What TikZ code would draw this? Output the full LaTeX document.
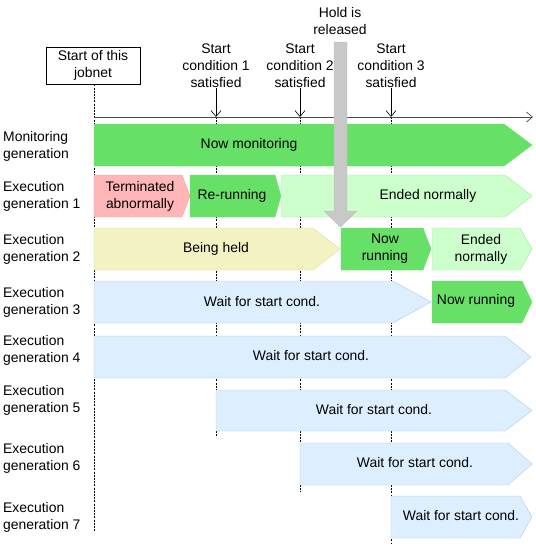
\documentclass[tikz,border=0pt]{standalone}
\usepackage{fontspec}
\setmainfont{Liberation Sans}
\usetikzlibrary{arrows.meta}

\definecolor{runGreen}{HTML}{66E066}
\definecolor{doneFill}{HTML}{CCFFCC}
\definecolor{doneLine}{HTML}{99EE99}
\definecolor{failFill}{HTML}{FFB6B6}
\definecolor{failLine}{HTML}{FF9C9C}
\definecolor{heldFill}{HTML}{F2F2C2}
\definecolor{heldLine}{HTML}{E0E090}
\definecolor{waitFill}{HTML}{DDEEFF}
\definecolor{waitLine}{HTML}{AACCEE}
\definecolor{holdGray}{HTML}{C8C8C8}

\tikzset{
  every node/.style={font=\fontsize{13.9}{17}\selectfont, align=center, inner sep=0pt},
  genlabel/.style={anchor=west, align=left},
  guide/.style={black, dash pattern=on 2pt off 1.2pt, line width=0.6pt},
  runbar/.style={fill=runGreen, draw=runGreen},
  donebar/.style={fill=doneFill, draw=doneLine},
  failbar/.style={fill=failFill, draw=failLine},
  heldbar/.style={fill=heldFill, draw=heldLine},
  waitbar/.style={fill=waitFill, draw=waitLine},
}
% style, left, end of body, tip, top, bottom
\newcommand{\phasebar}[6]{\draw[#1] (#2,#5) -- (#3,#5) -- (#4,{(#5+#6)/2}) -- (#3,#6) -- (#2,#6) -- cycle;}

\begin{document}
\begin{tikzpicture}[x=1pt, y=-1pt, >={Straight Barb[length=6pt,width=10pt]}]
    \useasboundingbox (0,0) rectangle (536,547);
    % time axis and events
    \node[draw, line width=0.7pt, minimum width=94pt, minimum height=37pt] (start) at (93,65.5) {Start of this\\jobnet};
    \coordinate (t0) at (94,117);
    \coordinate (tend) at (533,117);
    \coordinate (c1) at (216,117);
    \coordinate (c2) at (300,117);
    \coordinate (c3) at (391,117);
    \coordinate (e0) at (94,531);
    \coordinate (e1) at (216,437);
    \coordinate (e2) at (300,492);
    \coordinate (e3) at (391,543);
    \node (s1) at (216,66) {Start\\condition 1\\satisfied};
    \node (s2) at (300,66) {Start\\condition 2\\satisfied};
    \node (s3) at (391,66) {Start\\condition 3\\satisfied};
    \draw[guide] (start.south -| t0) -- (e0);
    \foreach \i in {1,2,3} {
        \draw[guide] (c\i) -- (e\i);
        \draw[->, line width=0.6pt] (s\i.south) -- (c\i);
    }
    \draw[black!70, line width=0.7pt, ->] (t0) -- (tend);

    % generations
    \phasebar{runbar}{94}{504}{532}{124}{166}
    \phasebar{failbar}{94}{182}{190}{175}{217}
    \phasebar{runbar}{190}{275}{281}{175}{217}
    \phasebar{donebar}{281}{505}{532}{175}{217}
    \phasebar{heldbar}{94}{313}{340}{228}{270}
    \phasebar{runbar}{341}{423}{431}{228}{270}
    \phasebar{donebar}{432}{520}{532}{228}{270}
    \phasebar{waitbar}{94}{393}{431}{281}{323}
    \phasebar{runbar}{432}{522}{532}{281}{323}
    \phasebar{waitbar}{94}{505}{531}{336}{378}
    \phasebar{waitbar}{216}{505}{532}{390}{431}
    \phasebar{waitbar}{300}{508}{532}{443}{485}
    \phasebar{waitbar}{391}{520}{532}{496}{538}

    \node (nmon) at (249,145) {Now monitoring};
    \node (nfail) at (140,196) {Terminated\\abnormally};
    \node (nrerun) at (232,196) {Re-running};
    \node (ndone1) at (428,196) {Ended normally};
    \node (nheld) at (216,249) {Being held};
    \node (nrun2) at (385,249) {Now\\running};
    \node (ndone2) at (481,249) {Ended\\normally};
    \node (nwait3) at (262,302) {Wait for start cond.};
    \node (nrun3) at (476,301) {Now running};
    \node (nwait4) at (311,356) {Wait for start cond.};
    \node (nwait5) at (374,410) {Wait for start cond.};
    \node (nwait6) at (415,463) {Wait for start cond.};
    \node (nwait7) at (461,516) {Wait for start cond.};

    % row labels
    \node[genlabel] (lmon) at (3,146) {Monitoring\\generation};
    \node[genlabel] (lg1) at (3,196) {Execution\\generation 1};
    \node[genlabel] (lg2) at (3,249) {Execution\\generation 2};
    \node[genlabel] (lg3) at (3,302) {Execution\\generation 3};
    \node[genlabel] (lg4) at (3,350) {Execution\\generation 4};
    \node[genlabel] (lg5) at (3,400) {Execution\\generation 5};
    \node[genlabel] (lg6) at (3,458) {Execution\\generation 6};
    \node[genlabel] (lg7) at (3,517) {Execution\\generation 7};

    % hold release
    \node (hold) at (340,21) {Hold is\\released};
    \draw[fill=holdGray, draw=black!25] (334,42) -- (347,42) -- (347,211) -- (357,211) -- (340.5,227)
        -- (324,211) -- (334,211) -- cycle;
\end{tikzpicture}
\end{document}
